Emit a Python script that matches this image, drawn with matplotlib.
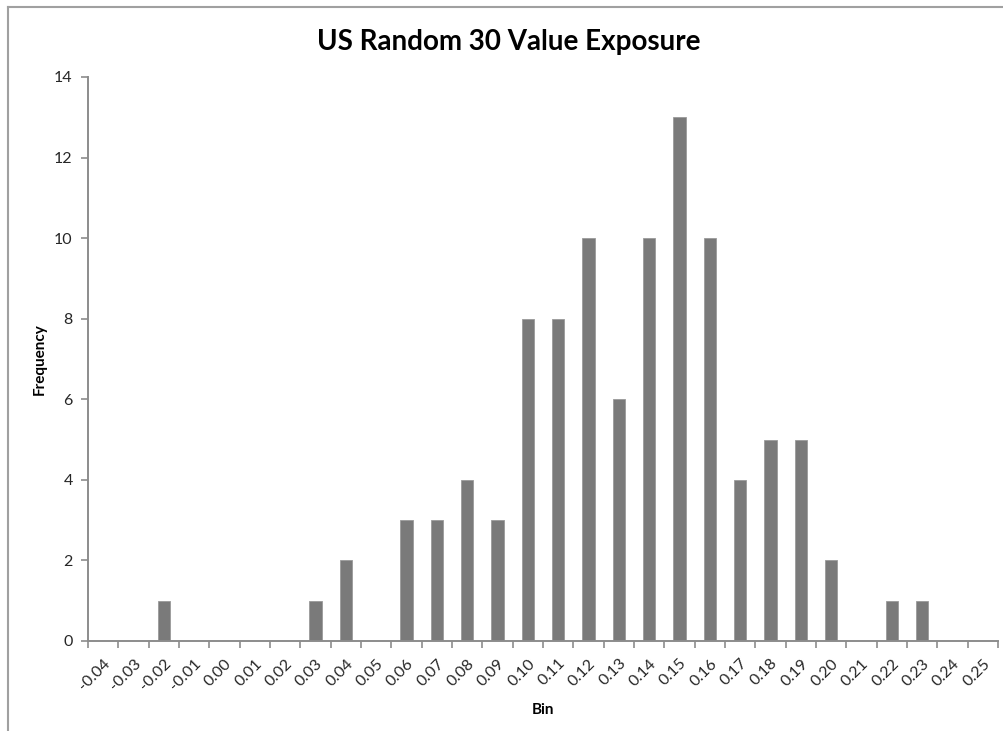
import numpy as np
import matplotlib.pyplot as plt

bins = ['-0.04', '-0.03', '-0.02', '-0.01', '0.00', '0.01', '0.02', '0.03', '0.04', '0.05',
        '0.06', '0.07', '0.08', '0.09', '0.10', '0.11', '0.12', '0.13', '0.14', '0.15',
        '0.16', '0.17', '0.18', '0.19', '0.20', '0.21', '0.22', '0.23', '0.24', '0.25']
frequency = [0, 0, 1, 0, 0, 0, 0, 1, 2, 0,
             3, 3, 4, 3, 8, 8, 10, 6, 10, 13,
             10, 4, 5, 5, 2, 0, 1, 1, 0, 0]

plt.rcParams['font.family'] = ['Lato', 'DejaVu Sans']
axis_col = '#8c8c8c'

fig = plt.figure(figsize=(10.04, 7.31), dpi=100)
ax = fig.add_axes([88 / 1004, 90 / 731, 910 / 1004, 564 / 731])

x = np.arange(len(bins))
ax.bar(x, frequency, width=0.4, color='#7a7a7a', edgecolor='#9a9a9a', linewidth=0.6)

ax.set_xlim(-0.5, len(bins) - 0.5)
ax.set_ylim(0, 14)
ax.set_yticks(range(0, 15, 2))
ax.set_xticks(x)
ax.set_xticklabels(bins, rotation=45, ha='right', va='top', rotation_mode='anchor')
ax.set_xticks(np.arange(-0.5, len(bins)), minor=True)
ax.tick_params(axis='x', which='major', length=0, pad=11, labelsize=11.5, labelcolor='#262626')
ax.tick_params(axis='x', which='minor', length=5, width=1.2, color=axis_col)
ax.tick_params(axis='y', length=5, width=1.2, color=axis_col, labelsize=11.5,
               labelcolor='#262626', pad=6)

for side in ['top', 'right']:
    ax.spines[side].set_visible(False)
for side in ['left', 'bottom']:
    ax.spines[side].set_color(axis_col)
    ax.spines[side].set_linewidth(1.4)

ax.set_xlabel('Bin', fontsize=11, fontweight='bold', va='center')
ax.xaxis.set_label_coords(0.5, -0.122)
ax.set_ylabel('Frequency', fontsize=11, fontweight='bold', va='center')
ax.yaxis.set_label_coords(-0.053, 0.5)
fig.text(0.507, 0.942, 'US Random 30 Value Exposure', ha='center', va='center',
         fontsize=20, fontweight='bold')

# chart area border (left and top edges visible)
fig.add_artist(plt.Line2D([8 / 1004, 8 / 1004], [0, 1 - 7 / 731], color='#a0a0a0', lw=1.5))
fig.add_artist(plt.Line2D([8 / 1004, 1], [1 - 7 / 731, 1 - 7 / 731], color='#a0a0a0', lw=1.5))

fig.savefig('out.png', dpi=100)
